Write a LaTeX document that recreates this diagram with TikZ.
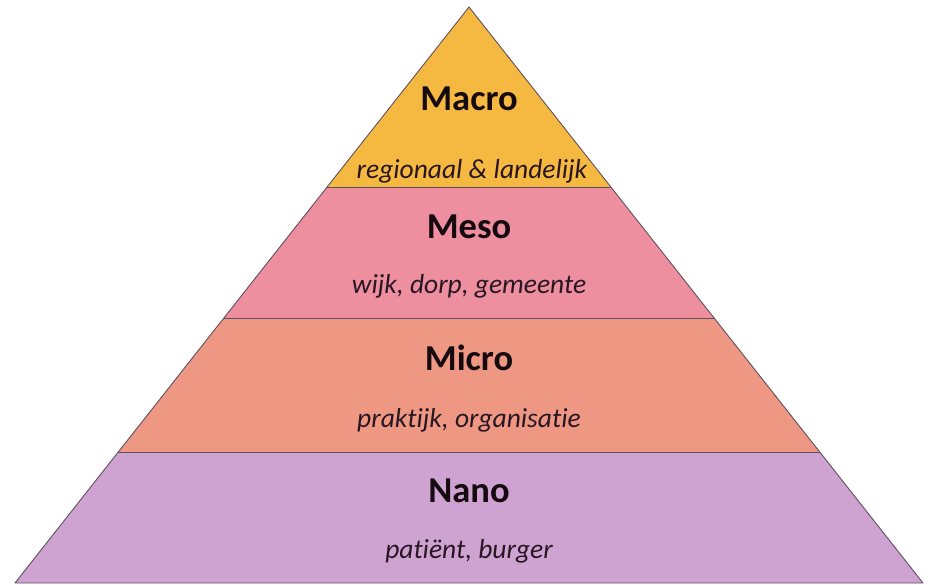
\documentclass[tikz,border=0pt]{standalone}
\usepackage{fontspec}
\setmainfont{Carlito}[Ligatures={NoCommon,TeX}]
\usetikzlibrary{calc}
\definecolor{cmacro}{RGB}{245,185,66}
\definecolor{cmeso}{RGB}{238,143,160}
\definecolor{cmicro}{RGB}{238,152,132}
\definecolor{cnano}{RGB}{207,163,209}
\definecolor{cedge}{RGB}{95,80,95}
\definecolor{ctext}{RGB}{20,10,15}
\definecolor{csub}{RGB}{40,22,35}
\tikzset{
  band/.style={draw=cedge, line width=0.9pt, line join=round},
  title/.style={anchor=base, font=\fontsize{36.5}{40}\selectfont\bfseries, text=ctext, inner sep=0pt},
  sub/.style={anchor=base, font=\fontsize{27.5}{30}\selectfont\itshape, text=csub, inner sep=0pt}
}
\begin{document}
\begin{tikzpicture}[x=1pt,y=-1pt]
\useasboundingbox (0,0) rectangle (932,584);
\coordinate (apex) at (469,7);
\coordinate (bl) at (15,583);
\coordinate (br) at (923,583);
\coordinate (l1) at ($(apex)!0.3125!(bl)$);
\coordinate (r1) at ($(apex)!0.3125!(br)$);
\coordinate (l2) at ($(apex)!0.54!(bl)$);
\coordinate (r2) at ($(apex)!0.54!(br)$);
\coordinate (l3) at ($(apex)!0.7726!(bl)$);
\coordinate (r3) at ($(apex)!0.7726!(br)$);
\fill[cnano] (l3) -- (r3) -- (br) -- (bl) -- cycle;
\fill[cmicro] (l2) -- (r2) -- (r3) -- (l3) -- cycle;
\fill[cmeso] (l1) -- (r1) -- (r2) -- (l2) -- cycle;
\fill[cmacro] (apex) -- (r1) -- (l1) -- cycle;
\draw[band] (l1) -- (r1);
\draw[band] (l2) -- (r2);
\draw[band] (l3) -- (r3);
\draw[band] (apex) -- (br) -- (bl) -- cycle;
\node[title] (macro) at (469,110) {Macro};
\node[sub] (macrosub) at (472,178) {regionaal \& landelijk};
\node[title] (meso) at (469,238) {Meso};
\node[sub] (mesosub) at (469,293) {wijk, dorp, gemeente};
\node[title] (micro) at (469,370) {Micro};
\node[sub] (microsub) at (469,427) {praktijk, organisatie};
\node[title] (nano) at (469,502) {Nano};
\node[sub] (nanosub) at (469,558) {patiënt, burger};
\end{tikzpicture}
\end{document}
